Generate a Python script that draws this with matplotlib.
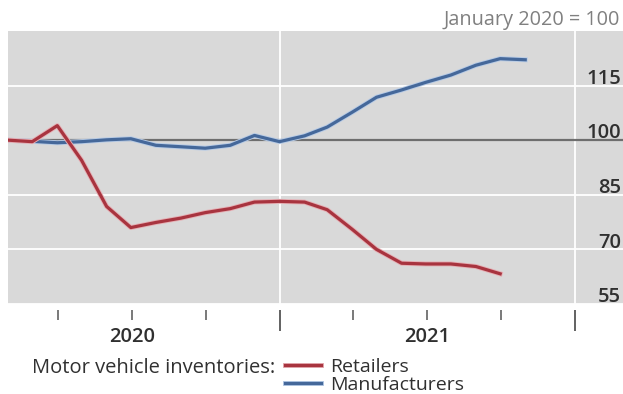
import matplotlib
matplotlib.use("Agg")
import matplotlib.pyplot as plt
import matplotlib.dates as mdates
import matplotlib.transforms as mtransforms
import matplotlib.patheffects as pe
import pandas as pd

# Motor vehicle inventories, index January 2020 = 100, monthly (plotted at month end)
retail_months = pd.date_range("2020-01-31", periods=21, freq="ME")
retailers = [100.0, 99.6, 104.0, 94.5, 81.8, 76.0, 77.4, 78.6, 80.1, 81.2, 83.0,
             83.2, 83.0, 80.9, 75.5, 70.0, 66.2, 66.0, 66.0, 65.3, 63.3]

manuf_months = pd.date_range("2020-01-31", periods=22, freq="ME")
manufacturers = [100.0, 99.7, 99.3, 99.6, 100.1, 100.4, 98.6, 98.2, 97.8, 98.6, 101.3,
                 99.6, 101.2, 103.6, 107.7, 111.8, 113.8, 115.9, 117.9, 120.6, 122.4, 122.1]

y_ticks = [55, 70, 85, 100, 115]
year_labels = ["2020", "2021"]

plt.rcParams["font.family"] = ["Open Sans", "DejaVu Sans"]
FS = 14.5
TXT = "#303030"

fig = plt.figure(figsize=(6.23, 3.94), dpi=100)
ax = fig.add_axes([8 / 623, 1 - 304 / 394, 1 - 8 / 623, (304 - 31) / 394])
ax.set_facecolor("#d9d9d9")

ax.set_xlim(pd.Timestamp("2020-01-30"), pd.Timestamp("2022-03-01"))
ax.set_ylim(55, 130)

# white grid, dark reference line at the base value
for v in y_ticks:
    ax.axhline(v, color="white", lw=1.3, zorder=1)
ax.axhline(100, color="#6e6e6e", lw=1.6, zorder=2)

ax.xaxis.set_major_locator(mdates.YearLocator())
ax.xaxis.set_minor_locator(mdates.MonthLocator(bymonth=[1, 4, 7, 10]))
ax.grid(axis="x", which="major", color="white", lw=1.3, zorder=1)
ax.set_axisbelow(True)

red = "#a8343f"
blue = "#45689a"
ax.plot(retail_months, retailers, color=red, lw=2.3, zorder=4,
        path_effects=[pe.Stroke(linewidth=3.6, foreground="#e6b0b5"), pe.Normal()],
        label="Retailers")
ax.plot(manuf_months, manufacturers, color=blue, lw=2.3, zorder=3,
        path_effects=[pe.Stroke(linewidth=3.6, foreground="#b7cbe6"), pe.Normal()],
        label="Manufacturers")

# y labels sit inside the plot, just above their gridlines
ax.set_yticks([])
ytrans = mtransforms.blended_transform_factory(ax.transAxes, ax.transData)
for v in y_ticks:
    ax.text(0.997, v - 0.9, str(v), transform=ytrans, ha="right", va="bottom",
            fontsize=FS, color=TXT, fontweight="semibold")

# x axis: long ticks at year boundaries, short ticks at quarters
for side in ["top", "right", "left", "bottom"]:
    ax.spines[side].set_visible(False)
ax.spines["bottom"].set_position(("outward", 4))
ax.tick_params(axis="x", which="major", length=15, width=1.3, color="#555555",
               labelbottom=False)
ax.tick_params(axis="x", which="minor", length=7, width=1.1, color="#555555",
               labelbottom=False)

xtrans = mtransforms.blended_transform_factory(ax.transData, ax.transAxes)
for yr in year_labels:
    ax.text(pd.Timestamp(f"{yr}-07-02"), -0.12, yr, transform=xtrans, ha="center",
            va="center", fontsize=FS, color=TXT, fontweight="semibold")

fig.text(620 / 623, 1 - 20 / 394, "January 2020 = 100", ha="right", va="center",
         fontsize=14.3, color="#808080")

fig.text(32 / 623, 1 - 368 / 394, "Motor vehicle inventories:", ha="left",
         va="center", fontsize=FS, color=TXT)
fig.legend(loc="upper left", bbox_to_anchor=(285 / 623, 1 - 358 / 394),
           frameon=False, fontsize=14, handlelength=1.85, handletextpad=0.45,
           labelspacing=0.0, borderpad=0, borderaxespad=0, labelcolor=TXT)

fig.savefig("out.png", dpi=100)
